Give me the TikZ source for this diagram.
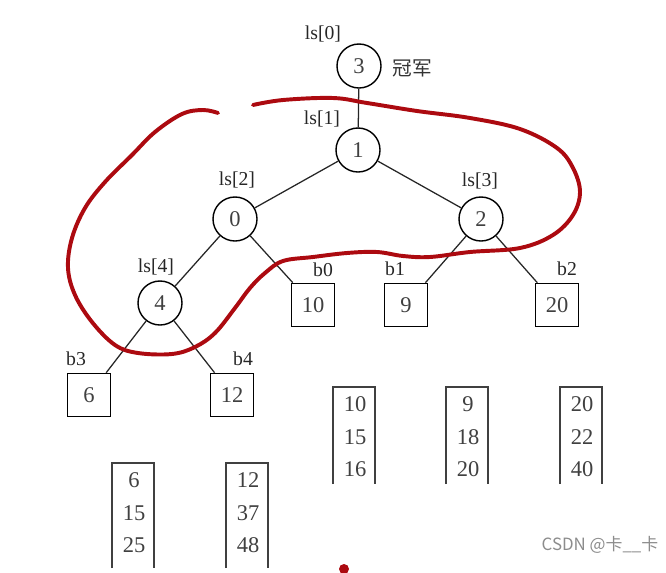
\documentclass[tikz,border=0pt]{standalone}
\usepackage{fontspec}
\setmainfont{Liberation Serif}
\newfontfamily\cjk{Noto Sans CJK SC}
\definecolor{pen}{RGB}{172,10,16}

\begin{document}
\begin{tikzpicture}[x=0.025cm,y=-0.025cm,
	vtx/.style={circle,draw,line width=1pt,minimum size=1.1cm,inner sep=0pt,text=black!75,font=\fontsize{16}{18}\selectfont},
	leaf/.style={rectangle,draw,line width=1pt,minimum size=1.08cm,inner sep=0pt,text=black!75,font=\fontsize{16}{18}\selectfont},
	tag/.style={inner sep=1pt,text=black!85,font=\fontsize{14}{16}\selectfont},
	num/.style={inner sep=0pt,text=black!75,font=\fontsize{16}{18}\selectfont}]
	\useasboundingbox (0,0) rectangle (666,573);
	
	% loser tree
	\node (n3) [vtx] at (359,66) {3};
	\node (n1) [vtx] at (358,150) {1};
	\node (n0) [vtx] at (235,219) {0};
	\node (n2) [vtx] at (481,219) {2};
	\node (n4) [vtx] at (160,303) {4};
	
	\node (b0) [leaf] at (313,305) {10};
	\node (b1) [leaf] at (406,305) {9};
	\node (b2) [leaf] at (557,305) {20};
	\node (b3) [leaf] at (89,395) {6};
	\node (b4) [leaf] at (232,395) {12};
	
	\foreach \a/\b in {n3/n1,n1/n0,n1/n2,n0/n4,n0/b0,n2/b1,n2/b2,n4/b3,n4/b4}
		\draw [line width=0.9pt,black!85] (\a) -- (\b);
	
	\foreach \name/\x/\y/\txt in {t0/323/34/{ls[0]},t1/322/119/{ls[1]},t2/237/180/{ls[2]},
		t3/480/181/{ls[3]},t4/156/267/{ls[4]},t5/323/270/b0,t6/395/269/b1,
		t7/567/269/b2,t8/76/359/b3,t9/243/359/b4}
		\node (\name) [tag] at (\x,\y) {\txt};
	
	\node (champ) [inner sep=0pt,text=black!80,font=\cjk\fontsize{14}{16}\selectfont] at (412,68) {冠军};
	
	% runs
	\foreach \x/\top/\bot/\p/\q/\r in {354/387/484/10/15/16,467/387/484/9/18/20,581/387/484/20/22/40,
		133/463/568/6/15/25,247/463/568/12/37/48}{
		\draw [line width=1.1pt,black!75] (\x-21,\bot) |- (\x+21,\top) -- (\x+21,\bot);
		\node (r\x a) [num] at (\x+1,\top+17) {\p};
		\node (r\x b) [num] at (\x+1,\top+50) {\q};
		\node (r\x c) [num] at (\x+1,\top+82) {\r};
	}
	
	% hand-drawn loop
	\draw [pen,line width=2.8pt,line cap=round,line join=round] plot[smooth,tension=0.6] coordinates {
		(253,105) (283,100) (333,98) (367,103) (417,111) (470,118) (520,129) (557,148)
		(573,168) (580,192) (573,215) (553,235) (520,248) (470,252) (430,257) (403,256)
		(377,252) (347,253) (313,257) (283,261) (265,273) (250,288) (235,308) (215,333)
		(195,347) (172,354) (138,353) (115,345) (92,322) (75,295) (68,268) (72,238)
		(85,208) (105,182) (132,155) (155,132) (182,114) (203,110) (218,113)};
	\fill [pen] (344,569) circle (5);
	
	\node (mark) [inner sep=0pt,text=black!45,font=\cjk\fontsize{12}{14}\selectfont] at (600,545) {CSDN @卡\_\_卡};
\end{tikzpicture}
\end{document}
